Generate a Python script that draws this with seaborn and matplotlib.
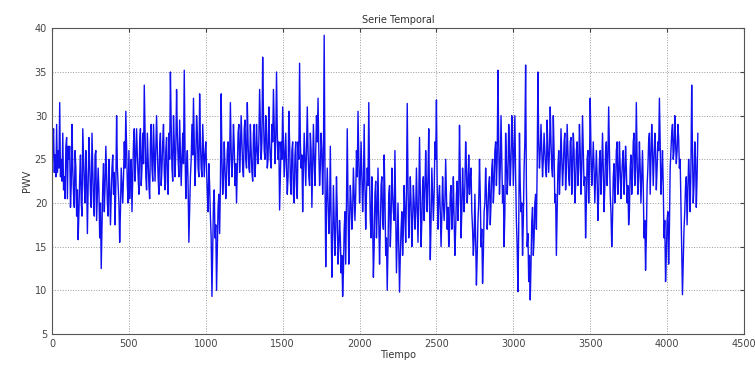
import numpy as np
import pandas as pd
import matplotlib
matplotlib.use("Agg")
import matplotlib.pyplot as plt
import seaborn as sns

# PWV readings: "even" lists hold t = 0, 10, 20, ...; "odd" lists hold
# t = 5, 15, 25, ... for the same stretch of the record
step = 5
pwv_even_0000_0500 = [21.5, 28.5, 25.5, 29, 26, 31.5, 25, 28, 23, 26.5,
                      20.5, 25, 19.5, 29, 21, 26, 18.5, 15.8, 23, 20,
                      28.5, 22, 26, 16.5, 27.5, 21, 28, 20, 25.5, 18,
                      24, 16, 12.5, 22, 19, 26.5, 20, 25, 17.5, 24,
                      21, 17.5, 30, 22, 15.5, 24, 20, 27, 30.5, 22]
pwv_odd_0000_0500 = [26.5, 23.5, 23, 23.5, 24, 23, 22.5, 21.5, 20.5, 27.5,
                     26.5, 26.5, 22, 24, 19.5, 24, 21.5, 19, 25.5, 18.5,
                     25, 20, 23, 22, 24.5, 19.5, 24, 18.5, 26, 21,
                     21.5, 20, 17, 24.5, 22, 23, 18.5, 22, 21, 25.5,
                     23.5, 22, 24, 20, 19, 22, 23, 24, 26, 20]
pwv_even_0500_1000 = [26, 23, 19, 27, 22.5, 28.5, 23, 27, 22, 28,
                      33.5, 23, 28, 22, 27, 24, 29, 22.5, 30, 23,
                      26.5, 22, 27, 23.5, 26, 22.5, 28, 35, 24, 30,
                      23, 33, 25, 29.5, 22, 28, 35.2, 20.5, 26, 15.5,
                      23, 29, 32, 22, 30, 24, 32.5, 24, 29, 23]
pwv_odd_0500_1000 = [20.5, 25, 23, 28.5, 25, 25.5, 21, 28.5, 24, 24.5,
                     28, 21.5, 25, 20.5, 29, 22.5, 25.5, 26, 26, 21,
                     28, 24, 29, 21.5, 27.5, 21, 25, 29, 22.5, 27,
                     26, 28, 23, 26, 25, 24.5, 26, 24, 22, 19.5,
                     25, 25.5, 27, 25, 28, 23, 27, 23, 26, 25.5]
pwv_even_1000_1500 = [27, 21, 24.5, 18.5, 9.3, 20, 16, 10, 19.5, 16.5,
                      32.5, 21, 27, 20.5, 26, 22, 31.5, 23, 29, 22,
                      20, 28, 23.5, 30, 24, 28.5, 25, 31.5, 24, 29,
                      23.5, 28, 23, 29, 24.5, 33, 25, 36.7, 26, 30,
                      24, 31, 25, 29, 33, 24.5, 35, 25, 19.2, 27]
pwv_odd_1000_1500 = [24, 19, 22, 16, 15, 21.5, 17.5, 15, 21, 22,
                     25, 23, 24, 23, 27, 25, 26, 25, 26.5, 24.5,
                     24, 29, 26, 27, 23, 29.5, 24, 27, 23.5, 26,
                     22.5, 29, 25, 26, 27, 29, 27, 30, 25, 28,
                     25, 27, 24, 27, 29, 27, 28, 27, 23, 25]
pwv_even_1500_2000 = [31, 23, 28, 21, 30.5, 22.5, 26, 21, 25.5, 22,
                      27, 36, 24, 19, 28, 22, 31, 23, 28, 19.5,
                      29, 22, 30, 32, 22, 28, 21, 39.2, 12.7, 24,
                      16.5, 26.5, 11.5, 22, 14, 23, 13, 18, 12, 9.3,
                      17, 13, 28.5, 13, 22, 17, 24, 18, 26, 30.5]
pwv_odd_1500_2000 = [27, 25.5, 24, 23, 27, 21, 27, 20, 27, 20.5,
                     25, 27, 25.5, 24, 25, 26, 26, 22, 26, 24,
                     25, 26, 27, 26, 24, 26, 25, 24, 20, 20,
                     19, 18, 16, 18, 17, 19, 15, 16, 14, 12,
                     19, 20, 20, 18, 20, 19, 21, 21, 23, 25]
pwv_even_2000_2500 = [20, 27, 19, 29, 17, 24, 31.5, 18, 23, 11.5,
                      21, 16, 24, 13, 22, 18, 25.5, 14, 10, 21,
                      15, 24, 19, 26, 12, 20, 9.8, 17, 14, 22,
                      15.5, 31.4, 16, 23, 15, 22, 17, 24, 15.5, 27.5,
                      15, 22, 18, 26, 19, 28.5, 13.5, 24, 18, 27]
pwv_odd_2000_2500 = [23, 23, 22, 22, 21, 22, 23, 16, 18, 15,
                     22.5, 19, 18, 17, 23, 17, 21, 16, 15, 22,
                     18, 21, 18, 19, 16, 15, 14, 19, 17, 19,
                     21, 22, 19, 20, 18, 20, 19, 20, 20, 21,
                     18, 23, 21, 22, 23, 20, 18, 21, 21, 25]
pwv_even_2500_3000 = [31.8, 17, 22, 15, 23, 18, 25, 17, 15, 21,
                      17, 23, 14, 21, 18, 28.9, 16, 24, 19, 27,
                      20, 25.5, 23, 19, 14, 21, 10.6, 18, 25, 15,
                      10.8, 19, 24, 17, 22, 17.5, 24, 20, 26, 22,
                      35.2, 21, 30, 20, 15, 28, 21, 29, 22, 30]
pwv_odd_2500_3000 = [22, 20.5, 19, 18.5, 20, 20, 21, 19.5, 17, 22,
                     19, 18, 17, 22.5, 21, 23, 19, 21, 22, 24,
                     22, 21, 24, 17, 16, 16, 14, 20, 21, 17,
                     14, 20, 21, 19, 23, 20, 25, 22, 27, 25,
                     27, 24, 25, 22, 19, 25, 23, 26, 25, 27]
pwv_even_3000_3500 = [22, 30, 18, 9.85, 28, 19, 14, 24, 35.8, 15,
                      11, 8.9, 18, 14, 20, 17, 35, 24, 29, 23,
                      28, 24, 29.5, 23.5, 31, 24, 30, 20, 14, 24,
                      21, 28.5, 22, 27, 21.5, 29, 23, 27, 21, 28,
                      20, 26, 22, 29, 21, 30, 22, 16, 25, 20]
pwv_odd_3000_3500 = [26, 23, 15, 17, 22, 20, 18, 27, 22, 16.5,
                     14, 13, 19.5, 16, 21, 24, 27, 26, 26, 25,
                     26, 23, 26, 26, 27, 23, 26, 21, 19, 26,
                     24, 25, 24, 28, 24, 26, 22, 27.5, 24, 26,
                     22, 27, 24, 26, 24, 26, 23, 20, 26, 24]
pwv_even_3500_4200 = [32, 22, 27, 20, 26, 18, 25, 21, 28, 19,
                      26, 22, 31, 21, 15, 23, 20, 26, 21, 27,
                      20.5, 25, 21, 26.5, 20, 17.5, 24, 21, 27, 22,
                      31.5, 21, 27, 20, 26, 16, 12.3, 22, 27, 21,
                      29, 22, 28, 21.5, 27, 32, 21, 26, 16, 11,
                      18, 13, 24, 28, 25, 30, 24.5, 29, 24, 20,
                      9.5, 17, 22, 17.5, 25, 19, 33.5, 20, 27, 19.5,
                      28]
pwv_odd_3500_4200 = [26, 24, 24, 23, 23, 21, 26, 24, 24, 22,
                     27, 25, 26, 19, 18, 24.5, 22, 27, 23, 24,
                     23, 26, 23, 24, 22, 19, 25.5, 23, 28, 24,
                     25, 23, 24, 23, 22, 18, 16, 24, 28, 25,
                     26, 25, 26, 24, 26, 27, 23, 22, 18, 14,
                     19, 17, 26, 29, 26, 27, 26, 27.5, 25, 15,
                     13, 19, 23, 21, 23, 24, 26, 22, 25, 23]

even = (pwv_even_0000_0500 + pwv_even_0500_1000 + pwv_even_1000_1500
        + pwv_even_1500_2000 + pwv_even_2000_2500 + pwv_even_2500_3000
        + pwv_even_3000_3500 + pwv_even_3500_4200)
odd = (pwv_odd_0000_0500 + pwv_odd_0500_1000 + pwv_odd_1000_1500
       + pwv_odd_1500_2000 + pwv_odd_2000_2500 + pwv_odd_2500_3000
       + pwv_odd_3000_3500 + pwv_odd_3500_4200)

pwv = []
for i, v in enumerate(even):
    pwv.append(v)
    if i < len(odd):
        pwv.append(odd[i])
tiempo = np.arange(len(pwv)) * step
df = pd.DataFrame({"Tiempo": tiempo, "PWV": pwv})

x_ticks = [0, 500, 1000, 1500, 2000, 2500, 3000, 3500, 4000, 4500]
y_ticks = [5, 10, 15, 20, 25, 30, 35, 40]

sns.set_style("white")
plt.rcParams["font.family"] = ["DejaVu Sans"]

fig = plt.figure(figsize=(7.55, 3.68), dpi=100)
ax = fig.add_axes([0.0689, 0.0924, 0.9165, 0.8306])

sns.lineplot(data=df, x="Tiempo", y="PWV", ax=ax, color="#1010f0",
             linewidth=1.0, estimator=None, errorbar=None)

ax.set_xlim(0, 4500)
ax.set_ylim(5, 40)
ax.set_xticks(x_ticks)
ax.set_yticks(y_ticks)
ax.grid(True, linestyle=":", color="#9a9a9a", linewidth=0.7)
ax.tick_params(direction="in", top=True, right=True, labelsize=7,
               colors="#444444", length=3)
for s in ax.spines.values():
    s.set_color("#555555")
    s.set_linewidth(0.8)

ax.set_title("Serie Temporal", fontsize=7, color="#333333", pad=4)
ax.set_xlabel("Tiempo", fontsize=7, color="#333333", labelpad=1)
ax.set_ylabel("PWV", fontsize=7, color="#333333", labelpad=2)

fig.savefig("out.png", dpi=100)
